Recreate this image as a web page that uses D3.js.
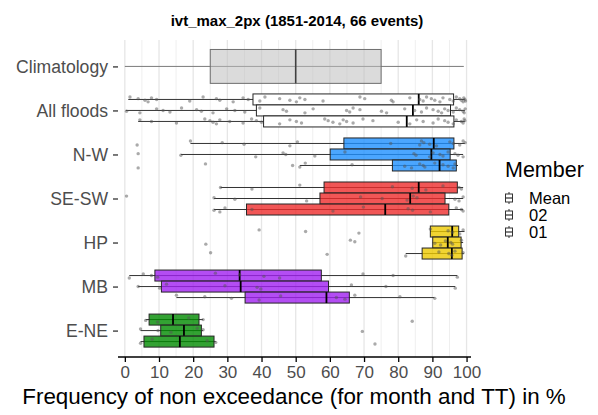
<!DOCTYPE html>
<html><head><meta charset="utf-8">
<script src="https://cdn.jsdelivr.net/npm/d3@7"></script>
<style>
body{margin:0;background:#fff;}
text{font-family:"Liberation Sans",Arial,sans-serif;}
</style></head>
<body><svg id="c" width="598" height="415"></svg>
<script>
const regions = ["Climatology","All floods","N-W","SE-SW","HP","MB","E-NE"];
const members = ["Mean","02","01"];
const xTicks = [0,10,20,30,40,50,60,70,80,90,100];
const titleText = "ivt_max_2px (1851-2014, 66 events)";
const xTitle = "Frequency of non exceedance (for month and TT) in %";
const legendTitle = "Member";

// Climatology box: [lowWhisker, q1, median, q3, highWhisker]
const climStats = [0, 25, 50, 75, 99.2];

// per region (All floods..E-NE), per member (Mean, 02, 01)
const lowWhisker = [[1.0,0.3,3.9],[19.2,16.4,51.2],[28.0,26.1,26.1],[89.4,90.1,82.2],[1.3,3.9,15.1],[6.1,4.6,4.6]];
const q1         = [[37.5,38.5,40.6],[64.1,60.1,78.3],[58.3,57.1,35.6],[89.4,90.1,87.0],[8.8,10.7,35.2],[7.1,10.5,5.6]];
const median     = [[86.0,84.3,82.5],[90.4,89.7,92.1],[86.0,83.5,76.2],[95.8,94.5,95.7],[33.6,33.9,59.0],[14.1,17.3,16.1]];
const q3         = [[96.2,95.3,96.3],[96.3,95.2,97.0],[97.3,93.7,94.8],[97.7,98.4,98.7],[57.5,59.6,65.7],[21.7,22.4,26.1]];
const highWhisker= [[99.5,99.5,99.5],[99.5,99.0,97.5],[99.0,99.0,99.0],[99.4,99.0,99.2],[97.3,96.7,90.6],[22.9,22.9,26.6]];

const points = [
  [ // All floods
    [1.5,3.9,5.9,6.8,7.8,9.3,19.0,22.9,26.8,27.8,31.7,34.6,36.1,39.5,41.0,45.3,48.3,50.2,51.2,52.7,58.0,68.8,70.2,78.0,78.5,83.4,86.3,87.3,88.3,89.7,90.7,92.2,93.1,95.1,96.1,97.0,98.0,98.5,99.0,99.2,99.5,99.7],
    [0.5,4.4,9.3,11.2,13.2,16.6,21.0,22.4,25.8,29.8,32.2,35.1,39.5,46.3,47.3,52.7,55.1,64.9,65.8,66.8,68.8,75.1,76.6,81.9,84.8,86.8,88.3,90.2,91.7,92.7,93.6,94.6,96.1,97.0,98.0,99.0,99.3,99.6],
    [4.4,7.8,15.1,23.4,24.9,25.8,26.8,27.8,30.7,34.6,37.1,38.5,40.0,45.3,48.3,50.2,51.7,58.5,59.5,60.9,62.9,63.9,64.9,66.8,69.7,72.6,80.0,83.4,85.4,87.3,90.2,91.7,93.6,94.6,96.1,97.0,98.5,99.0,99.3,99.5]
  ],
  [ // N-W
    [3.6,19.2,28.5,34.9,48.3,50.5,77.8,86.3,86.8,87.5,89.2,91.2,95.1,96.1,98.0,99.0,99.6],
    [3.9,16.4,38.3,46.3,47.1,55.6,64.4,84.6,85.2,89.2,90.2,92.2,93.1,94.6,96.6,97.5,99.0],
    [3.9,23.6,49.1,51.2,52.8,66.5,81.9,83.9,86.3,87.3,87.8,90.7,93.1,94.6,96.1,96.6]
  ],
  [ // SE-SW
    [28.0,37.2,51.2,78.3,84.1,88.1,93.1,97.8,98.5],
    [0.5,26.1,32.2,53.2,69.0,75.3,82.6,84.4,85.5,96.6,97.8,99.0],
    [26.1,27.8,29.3,37.2,60.9,69.8,82.9,84.2,89.4,97.0,98.5,99.0]
  ],
  [ // HP
    [39.3,52.9,68.5,89.4,94.6,95.9,98.0,99.0],
    [23.7,66.0,67.3,90.7,92.4,93.8,95.4,95.9,98.5],
    [25.1,59.2,82.2,91.9,94.8,95.7,96.6,99.0]
  ],
  [ // MB
    [1.3,5.4,7.8,9.6,26.5,33.6,40.7,45.3,69.7,78.5,97.3],
    [3.9,10.2,12.2,29.3,38.7,39.8,66.3,76.4,96.7],
    [15.1,23.4,31.2,39.3,45.6,61.9,64.4,67.3,80.5,90.7]
  ],
  [ // E-NE
    [6.1,9.6,18.7,22.9,84.1],
    [4.6,9.7,13.5,21.2,22.9,69.5],
    [4.6,8.0,24.1,26.6,73.2]
  ]
];

const regionFill = ["#ffffff","#1E90FF","#EE2C2C","#EEC900","#A020F0","#008B00"];

const svg = d3.select("#c");
const panel = {left:118, right:471, top:40, bottom:357};
const x = d3.scaleLinear().domain([-2, 101.3]).range([panel.left, panel.right]);
const y = d3.scalePoint().domain(regions).range([panel.top, panel.bottom]).padding(0.6);
const step = y.step();
const dodge = step * 0.25;

// grid
const gridVals = d3.range(0, 101, 5);
svg.append("g").selectAll("line").data(gridVals).join("line")
  .attr("x1", d => x(d)).attr("x2", d => x(d))
  .attr("y1", panel.top).attr("y2", panel.bottom)
  .attr("stroke", d => d % 10 === 0 ? "#e6e6e6" : "#efefef")
  .attr("stroke-width", d => d % 10 === 0 ? 1.3 : 1);

// Climatology
const cy = y("Climatology");
const ch = step * 0.77;
const cg = svg.append("g");
cg.append("line").attr("x1", x(climStats[0])).attr("x2", x(climStats[4]))
  .attr("y1", cy).attr("y2", cy).attr("stroke", "#7a7a7a").attr("stroke-width", 1);
cg.append("rect").attr("x", x(climStats[1])).attr("width", x(climStats[3]) - x(climStats[1]))
  .attr("y", cy - ch/2).attr("height", ch)
  .attr("fill", "#bebebe").attr("fill-opacity", 0.55)
  .attr("stroke", "#6e6e6e").attr("stroke-width", 1);
cg.append("line").attr("x1", x(climStats[2])).attr("x2", x(climStats[2]))
  .attr("y1", cy - ch/2).attr("y2", cy + ch/2).attr("stroke", "#404040").attr("stroke-width", 1.6);

// other regions
regions.slice(1).forEach((reg, ri) => {
  const c = y(reg);
  members.forEach((m, mi) => {
    const cm = c + (mi - 1) * dodge;
    const g = svg.append("g");
    const h = dodge;
    g.append("line").attr("x1", x(lowWhisker[ri][mi])).attr("x2", x(highWhisker[ri][mi]))
      .attr("y1", cm).attr("y2", cm).attr("stroke", "#333").attr("stroke-width", 1);
    g.append("rect").attr("x", x(q1[ri][mi])).attr("width", x(q3[ri][mi]) - x(q1[ri][mi]))
      .attr("y", cm - h/2).attr("height", h)
      .attr("fill", regionFill[ri]).attr("fill-opacity", ri === 0 ? 1 : 0.8)
      .attr("stroke", "#262626").attr("stroke-width", 1);
    g.append("line").attr("x1", x(median[ri][mi])).attr("x2", x(median[ri][mi]))
      .attr("y1", cm - h/2).attr("y2", cm + h/2).attr("stroke", "#000").attr("stroke-width", 1.8);
    g.selectAll("circle").data(points[ri][mi]).join("circle")
      .attr("cx", d => x(d))
      .attr("cy", (d, i) => cm + (((i * 37 + mi * 11 + ri * 5) % 7) - 3) * 0.8)
      .attr("r", 1.7)
      .attr("fill", "#555").attr("fill-opacity", 0.5);
  });
});

// x axis
const xa = svg.append("g").attr("transform", `translate(0,${panel.bottom})`)
  .call(d3.axisBottom(x).tickValues(xTicks).tickSize(5).tickPadding(4).tickSizeOuter(0));
xa.select(".domain").attr("stroke", "#000").attr("stroke-width", 1.6)
  .attr("d", `M${panel.left},0H${panel.right}`);
xa.selectAll(".tick line").attr("stroke", "#000").attr("stroke-width", 1.3);
xa.selectAll(".tick text").attr("fill", "#4d4d4d").style("font-size", "17px")
  .style("font-family", "Liberation Sans, Arial, sans-serif");

// y axis
const ya = svg.append("g").attr("transform", `translate(${panel.left},0)`)
  .call(d3.axisLeft(y).tickSize(5).tickPadding(5));
ya.select(".domain").remove();
ya.selectAll(".tick line").attr("stroke", "#333").attr("stroke-width", 1.3);
ya.selectAll(".tick text").attr("fill", "#4d4d4d").style("font-size", "17.6px")
  .style("font-family", "Liberation Sans, Arial, sans-serif");

// title
svg.append("text").attr("x", 297).attr("y", 26).attr("text-anchor", "middle")
  .style("font-size", "15px").style("font-weight", "bold").attr("fill", "#000").text(titleText);

// x title
svg.append("text").attr("x", 294).attr("y", 404).attr("text-anchor", "middle")
  .style("font-size", "22.4px").attr("fill", "#000").text(xTitle);

// legend
const lg = svg.append("g");
lg.append("text").attr("x", 505).attr("y", 177).style("font-size", "21.5px").attr("fill", "#000").text(legendTitle);
const legY = d3.scalePoint().domain(members).range([198, 232]);
members.forEach(m => {
  const ly = legY(m);
  const gx = 509;
  lg.append("line").attr("x1", gx).attr("x2", gx).attr("y1", ly - 6).attr("y2", ly + 6)
    .attr("stroke", "#333").attr("stroke-width", 1);
  lg.append("rect").attr("x", gx - 3.5).attr("y", ly - 4).attr("width", 7).attr("height", 8)
    .attr("fill", "#fff").attr("stroke", "#333").attr("stroke-width", 1);
  lg.append("line").attr("x1", gx - 3.5).attr("x2", gx + 3.5).attr("y1", ly).attr("y2", ly)
    .attr("stroke", "#333").attr("stroke-width", 1.2);
  lg.append("text").attr("x", 529).attr("y", ly).attr("dy", "0.36em")
    .style("font-size", "16.5px").attr("fill", "#000").text(m);
});
</script></body></html>
